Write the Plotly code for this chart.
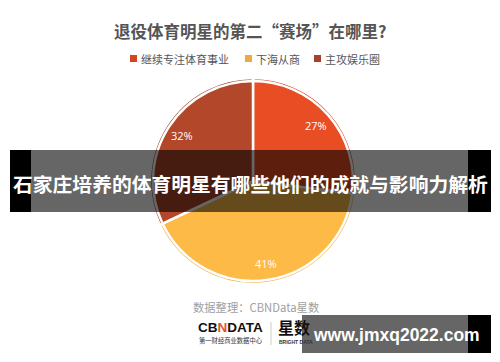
import math
import plotly.graph_objects as go

categories = ["继续专注体育事业", "下海从商", "主攻娱乐圈"]
values = [27, 41, 32]
main_colors = ["#E84D24", "#FDBA47", "#B2472A"]
edge_colors = ["#D4441F", "#E9A93E", "#A23F26"]
legend_colors = ["#D9441F", "#EDAA40", "#A8402A"]

title_text = "退役体育明星的第二“赛场”在哪里?"
banner_text = "石家庄培养的体育明星有哪些他们的成就与影响力解析"
source_text = "数据整理：CBNData星数"
watermark_text = "www.jmxq2022.com"

W, H = 500, 362
def px(x): return x / W
def py(y): return 1 - y / H

CJK = "Noto Sans CJK SC"

fig = go.Figure()
cx, cy, r = 253, 181, 103
fig.add_trace(go.Pie(
    labels=categories, values=values, sort=False, direction="clockwise", rotation=0,
    marker=dict(colors=edge_colors, line=dict(color="white", width=2.5)),
    textinfo="none", hoverinfo="skip", showlegend=False,
    domain=dict(x=[px(cx - r), px(cx + r)], y=[py(cy + r), py(cy - r)]),
))
r2 = 100
fig.add_trace(go.Pie(
    labels=categories, values=values, sort=False, direction="clockwise", rotation=0,
    marker=dict(colors=main_colors, line=dict(color="white", width=2.5)),
    textinfo="none", hoverinfo="skip", showlegend=False,
    domain=dict(x=[px(cx - r2), px(cx + r2)], y=[py(cy + r2), py(cy - r2)]),
))

shapes = []
annotations = []

def ann(x, y, text, size, color, family=CJK, xanchor="center"):
    annotations.append(dict(x=px(x), y=py(y), xref="paper", yref="paper", text=text,
                            xanchor=xanchor, yanchor="middle", showarrow=False,
                            font=dict(family=family, size=size, color=color)))

# slice percentage labels, placed along each slice's bisector
total = sum(values)
cum = 0
label_r = 84
for v in values:
    mid = (cum + v / 2) / total * 2 * math.pi
    cum += v
    ann(cx + label_r * math.sin(mid), cy - label_r * math.cos(mid), f"{round(v / total * 100)}%",
        11, "white", family="Open Sans")

ann(250, 31, "<b>" + title_text + "</b>", 16.5, "#555555")

# manual legend
leg_x = [130, 245, 314]
for cat, col, lx in zip(categories, legend_colors, leg_x):
    shapes.append(dict(type="rect", xref="paper", yref="paper", x0=px(lx), x1=px(lx + 7),
                       y0=py(62), y1=py(55), fillcolor=col, line=dict(width=0)))
    ann(lx + 9, 58.5, cat, 11, "#555555", xanchor="left")

# banner
shapes.append(dict(type="rect", xref="paper", yref="paper", x0=px(10), x1=px(31), y0=py(212), y1=py(150),
                   fillcolor="black", line=dict(width=0), layer="above"))
shapes.append(dict(type="rect", xref="paper", yref="paper", x0=px(468), x1=px(491), y0=py(212), y1=py(150),
                   fillcolor="black", line=dict(width=0), layer="above"))
shapes.append(dict(type="rect", xref="paper", yref="paper", x0=px(31), x1=px(468), y0=py(212), y1=py(150),
                   fillcolor="rgba(0,0,0,0.6)", line=dict(width=0), layer="above"))
ann(250.5, 183, "<b>" + banner_text + "</b>", 19.8, "white")

# source
ann(191, 307, source_text, 11.3, "#A0A0A0", xanchor="left")

# logos
ann(196, 327, "<b>CB<span style='color:#E8501E'>N</span>DATA</b>", 13.5, "#111111",
    family="Liberation Sans", xanchor="left")
ann(197, 340.5, "第一财经商业数据中心", 6.3, "#333333", xanchor="left")
shapes.append(dict(type="line", xref="paper", yref="paper", x0=px(271), x1=px(271), y0=py(345), y1=py(322),
                   line=dict(color="#CCCCCC", width=1)))
ann(276, 327, "<b>星数</b>", 16, "#111111", xanchor="left")
ann(277, 341.5, "<b>BRIGHT DATA</b>", 5, "#333333", family="Liberation Sans", xanchor="left")

# watermark
shapes.append(dict(type="rect", xref="paper", yref="paper", x0=px(302), x1=px(468), y0=py(353), y1=py(315),
                   fillcolor="rgba(0,0,0,0.6)", line=dict(width=0), layer="above"))
shapes.append(dict(type="rect", xref="paper", yref="paper", x0=px(468), x1=px(491), y0=py(353), y1=py(315),
                   fillcolor="black", line=dict(width=0), layer="above"))
ann(396, 335, "<b>" + watermark_text + "</b>", 17.5, "white", family="Liberation Sans")

fig.update_layout(width=W, height=H, margin=dict(l=0, r=0, t=0, b=0), paper_bgcolor="white",
                  plot_bgcolor="white", showlegend=False, shapes=shapes, annotations=annotations)

fig.write_html("out.html")
